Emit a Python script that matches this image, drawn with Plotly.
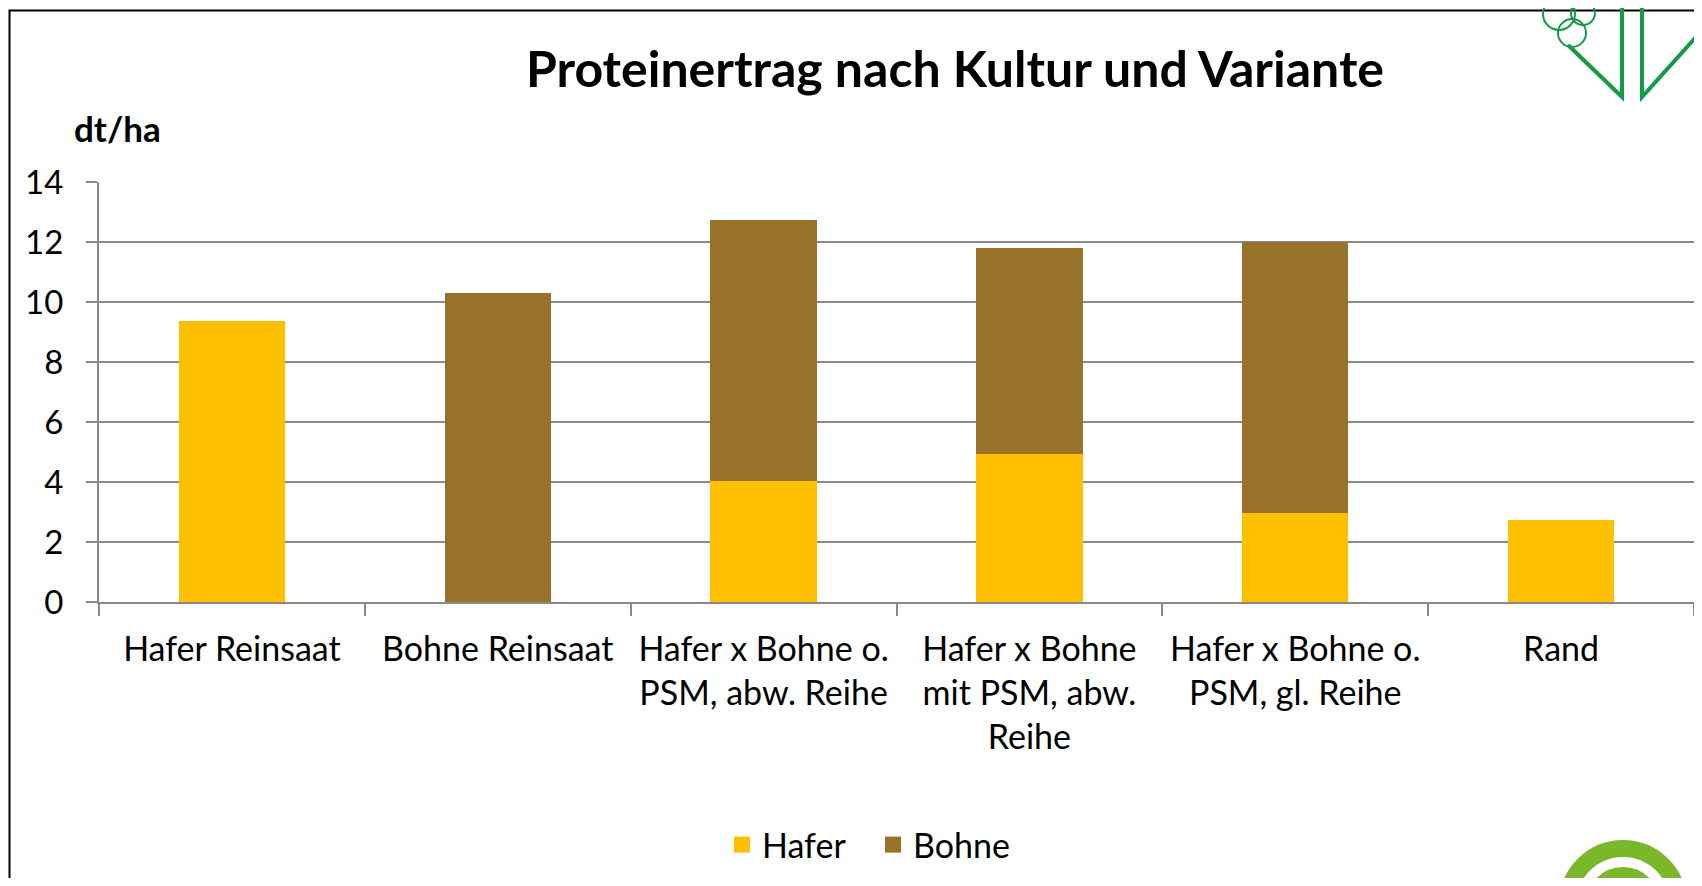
import plotly.graph_objects as go

categories = [
    "Hafer Reinsaat",
    "Bohne Reinsaat",
    "Hafer x Bohne o.<br>PSM, abw. Reihe",
    "Hafer x Bohne<br>mit PSM, abw.<br>Reihe",
    "Hafer x Bohne o.<br>PSM, gl. Reihe",
    "Rand",
]
hafer = [9.37, 0, 4.03, 4.95, 2.96, 2.75]
bohne = [0, 10.29, 8.71, 6.85, 9.04, 0]
y_ticks = [0, 2, 4, 6, 8, 10, 12, 14]

title_text = "Proteinertrag nach Kultur und Variante"
unit_text = "dt/ha"

C_HAFER = "#FFC000"
C_BOHNE = "#98722B"
GRID = "#898989"
FONT = "Lato"

# page has an 8px body margin; figure sized to fit the window
OFF = 8
W, H = 1702 - 2 * OFF, 886 - 2 * OFF
PL, PR, PT, PB = 91, 1686, 174, 594


def fx(px):  # screen px -> paper
    return (px - OFF - PL) / (PR - PL)


def fy(py):
    return (PB - (py - OFF)) / (PB - PT)


fig = go.Figure()
fig.add_trace(go.Bar(x=categories, y=hafer, name="Hafer", marker_color=C_HAFER,
                     marker_line_width=0, showlegend=False))
fig.add_trace(go.Bar(x=categories, y=bohne, name="Bohne", marker_color=C_BOHNE,
                     marker_line_width=0, showlegend=False))
# legend proxies
fig.add_trace(go.Scatter(x=[None], y=[None], mode="markers", name="Hafer",
                         marker=dict(symbol="square", size=16, color=C_HAFER)))
fig.add_trace(go.Scatter(x=[None], y=[None], mode="markers", name="Bohne",
                         marker=dict(symbol="square", size=16, color=C_BOHNE)))

shapes = []
# outer frame (top & left edge)
shapes.append(dict(type="path", xref="paper", yref="paper",
                   path=f"M {fx(9.5)} {fy(900)} L {fx(9.5)} {fy(10.5)} L {fx(1710)} {fy(10.5)}",
                   line=dict(color="black", width=2)))

# top-right logo (approximation)
G = "#149A48"
for cx, cy, r in [(1559, 14, 16), (1583, 13, 12), (1572, 33, 14), (1550, -3, 10), (1571, -3, 10), (1592, -3, 10)]:
    shapes.append(dict(type="circle", xref="paper", yref="paper",
                       x0=fx(cx - r), x1=fx(cx + r), y0=fy(cy + r), y1=fy(cy - r),
                       line=dict(color=G, width=2), fillcolor="rgba(0,0,0,0)"))
shapes.append(dict(type="path", xref="paper", yref="paper",
                   path=f"M {fx(1568)} {fy(45)} L {fx(1622)} {fy(97)} L {fx(1622)} {fy(-5)}",
                   line=dict(color=G, width=4)))
shapes.append(dict(type="path", xref="paper", yref="paper",
                   path=f"M {fx(1642)} {fy(-5)} L {fx(1642)} {fy(97)} L {fx(1706)} {fy(26)}",
                   line=dict(color=G, width=4)))
shapes.append(dict(type="path", xref="paper", yref="paper",
                   path=f"M {fx(1650)} {fy(-2)} L {fx(1650)} {fy(5)} L {fx(1702)} {fy(5)} L {fx(1702)} {fy(-2)} Z",
                   line=dict(color=G, width=1), fillcolor=G))

# bottom-right logo (approximation)
LG = "#7AB72B"
for r, w in [(55.5, 17), (28.5, 17)]:
    cx, cy = 1623, 904
    shapes.append(dict(type="circle", xref="paper", yref="paper",
                       x0=fx(cx - r), x1=fx(cx + r), y0=fy(cy + r), y1=fy(cy - r),
                       line=dict(color=LG, width=w), fillcolor="rgba(0,0,0,0)"))

fig.update_layout(
    width=W, height=H,
    margin=dict(l=PL, r=W - PR, t=PT, b=H - PB, pad=0),
    paper_bgcolor="white", plot_bgcolor="white",
    barmode="stack", bargap=0.6,
    font=dict(family=FONT, color="black"),
    title=dict(text=f"<b>{title_text}</b>", font=dict(family=FONT, size=50, color="black"),
               x=(955 - OFF) / W, xref="container", xanchor="center",
               y=1 - (69 - OFF) / H, yref="container", yanchor="middle"),
    xaxis=dict(showline=True, linecolor=GRID, linewidth=2, ticks="outside", ticklen=12,
               tickwidth=2, tickcolor=GRID, tickson="boundaries", showgrid=False,
               tickangle=0,
               tickfont=dict(family=FONT, size=34, color="black"), ticklabelstandoff=16),
    yaxis=dict(range=[0, 14], tickvals=y_ticks, showline=True, linecolor=GRID, linewidth=2,
               ticks="outside", ticklen=11, tickwidth=2, tickcolor=GRID,
               showgrid=True, gridcolor=GRID, gridwidth=2, zeroline=False,
               tickfont=dict(family=FONT, size=33, color="black"), ticklabelstandoff=16),
    legend=dict(orientation="h", traceorder="normal", x=fx(873), xanchor="center",
                y=fy(845), yanchor="middle",
                font=dict(family=FONT, size=34, color="black"), entrywidth=106,
                entrywidthmode="pixels", bgcolor="rgba(0,0,0,0)"),
    annotations=[dict(text=f"<b>{unit_text}</b>", xref="paper", yref="paper",
                      x=fx(117), y=fy(128), xanchor="center", yanchor="middle",
                      showarrow=False, font=dict(family=FONT, size=35, color="black"))],
    shapes=shapes,
)

fig.write_html("out.html")
